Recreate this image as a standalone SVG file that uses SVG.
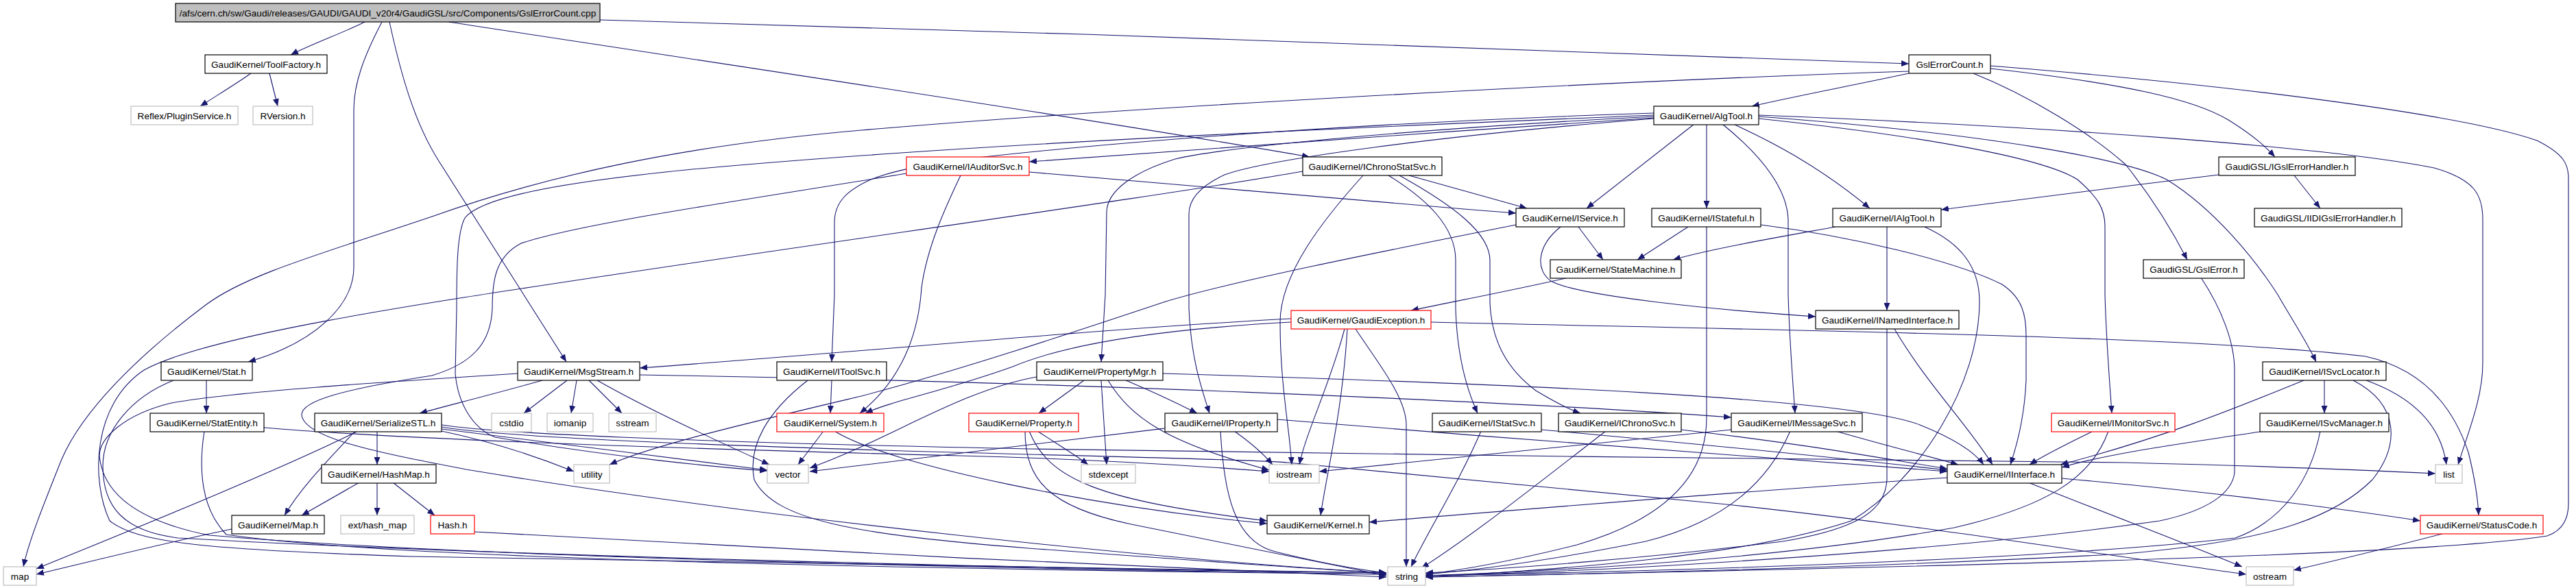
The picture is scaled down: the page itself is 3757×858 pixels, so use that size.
<svg xmlns="http://www.w3.org/2000/svg" width="3757" height="858" viewBox="0 0 3757 858">
<style>
.e{fill:none;stroke:#191970;stroke-width:1.1;marker-end:url(#ah)}
.n rect{fill:#fff;stroke:#000;stroke-width:1.2}
.n.g rect{stroke:#bfbfbf}
.n.r rect{stroke:#ff0000}
.n.root rect{fill:#bfbfbf}
text{font-family:"Liberation Sans",Arial,sans-serif;font-size:13.6px;text-anchor:middle;fill:#000}
</style>
<defs>
<marker id="ah" markerWidth="12" markerHeight="9" refX="11" refY="4.5" orient="auto" markerUnits="userSpaceOnUse"><path d="M0,0 L11,4.5 L0,9 z" fill="#191970"/></marker>
</defs>
<rect width="3757" height="858" fill="#fff"/>
<g id="connectors">
<path class="e" d="M532,32 C505,46 455,64 424,80"/>
<path class="e" d="M366,107 C345,122 315,140 292,155"/>
<path class="e" d="M393,107 L405,155"/>
<path class="e" d="M557,32 C532,80 516,120 516,160 L516,390 C516,445 460,500 362,528"/>
<path class="e" d="M568,32 C585,110 605,180 640,235 L826,528"/>
<path class="e" d="M654,32 C1100,100 1600,175 1910,229"/>
<path class="e" d="M875,29 C1500,45 2300,75 2784,93"/>
<path class="e" d="M2784,104 C2300,120 1600,160 1256,190 C1000,212 800,255 630,316 C470,370 360,400 300,445 C200,520 120,600 90,670 C62,740 42,790 34,827"/>
<path class="e" d="M2784,107 C2700,125 2620,140 2555,155"/>
<path class="e" d="M2903,100 C3100,122 3200,145 3250,175 C3290,200 3305,215 3318,229"/>
<path class="e" d="M2878,107 C2960,140 3050,195 3100,240 C3140,290 3170,340 3190,379"/>
<path class="e" d="M2903,96 C3300,128 3600,170 3700,205 C3740,225 3746,240 3746,260 L3746,735 C3746,760 3735,775 3715,782 C3600,800 3300,818 2079,842"/>
<path class="e" d="M2412,172 C2100,192 1700,222 1501,236"/>
<path class="e" d="M2471,181 L2314,304"/>
<path class="e" d="M2489,181 L2489,304"/>
<path class="e" d="M2528,181 C2580,205 2650,240 2727,304"/>
<path class="e" d="M2512,181 C2560,220 2606,270 2608,320 L2608,430 C2610,500 2615,560 2618,603"/>
<path class="e" d="M2565,173 C2800,198 2980,230 3030,262 C3060,288 3070,305 3070,330 L3070,430 C3072,500 3077,560 3080,603"/>
<path class="e" d="M2565,170 C2900,195 3100,232 3160,262 C3230,305 3290,380 3322,430 C3345,470 3365,500 3378,528"/>
<path class="e" d="M2565,168 C3000,185 3400,215 3550,245 C3610,262 3621,285 3621,320 L3621,530 C3621,580 3600,630 3585,678"/>
<path class="e" d="M2412,165 C2100,175 1700,198 1400,233 C1340,242 1300,250 1270,262 C1235,278 1217,295 1217,325 L1217,430 L1213,528"/>
<path class="e" d="M2412,168 C2000,185 1400,210 1000,248 C800,268 700,290 678,318 C666,340 666,400 666,450 L664,545 C668,590 690,625 722,638 C900,668 1050,682 1119,687"/>
<path class="e" d="M2412,170 C2100,186 1800,212 1714,232 C1650,252 1614,280 1614,310 L1612,430 L1606,528"/>
<path class="e" d="M2412,173 C2100,198 1850,232 1786,255 C1750,272 1734,292 1734,312 L1734,450 C1737,520 1750,560 1764,603"/>
<path class="e" d="M1501,251 C1800,275 2000,295 2211,311"/>
<path class="e" d="M1401,256 C1380,300 1352,360 1344,420 C1340,480 1320,550 1254,603"/>
<path class="e" d="M1322,253 C1100,290 850,325 760,355 C722,375 718,410 718,450 C716,500 690,530 630,548 C500,568 440,585 440,605 C442,640 560,662 680,685 C1100,755 1700,818 2022,836"/>
<path class="e" d="M2055,256 L2227,304"/>
<path class="e" d="M2025,256 C2080,290 2123,330 2123,380 L2123,450 C2125,520 2140,570 2155,603"/>
<path class="e" d="M2041,256 C2120,300 2173,340 2173,380 L2173,440 C2175,500 2200,540 2240,570 C2270,588 2290,598 2305,603"/>
<path class="e" d="M1988,256 C1930,320 1867,400 1867,470 C1867,560 1880,620 1884,678"/>
<path class="e" d="M1900,250 C1700,285 1300,340 900,400 C600,445 300,490 210,540 C135,590 132,700 160,760 C200,792 300,802 600,812 C1200,826 1700,832 2022,836"/>
<path class="e" d="M2302,331 L2338,379"/>
<path class="e" d="M2276,331 C2240,360 2240,395 2262,410 C2300,432 2500,452 2648,462"/>
<path class="e" d="M2211,328 C2000,370 1800,410 1700,440 C1550,490 1400,540 1256,578 C1100,615 950,650 889,678"/>
<path class="e" d="M2462,331 L2388,379"/>
<path class="e" d="M2568,328 C2700,345 2850,380 2920,415 C2950,435 2955,460 2955,490 L2955,555 C2953,600 2945,640 2932,678"/>
<path class="e" d="M2489,331 L2489,610 C2489,700 2420,760 2300,795 C2200,820 2130,832 2079,838"/>
<path class="e" d="M2752,331 L2752,453"/>
<path class="e" d="M2677,331 C2600,345 2500,362 2440,379"/>
<path class="e" d="M2807,331 C2860,355 2887,390 2887,440 C2887,560 2800,700 2700,760 C2550,810 2300,830 2079,842"/>
<path class="e" d="M3346,256 L3384,304"/>
<path class="e" d="M3236,255 C3100,272 2950,290 2831,306"/>
<path class="e" d="M2288,405 C2200,425 2120,440 2058,453"/>
<path class="e" d="M1883,465 C1600,480 1300,510 933,537"/>
<path class="e" d="M1883,470 C1700,480 1560,500 1477,535 C1380,570 1300,585 1262,603"/>
<path class="e" d="M1961,480 C1940,560 1905,630 1895,678"/>
<path class="e" d="M1965,480 C1958,600 1935,690 1926,752"/>
<path class="e" d="M1977,480 C2010,530 2051,580 2051,620 L2051,827"/>
<path class="e" d="M2087,470 C2600,482 3200,490 3450,520 C3540,540 3580,600 3600,660 C3610,700 3614,730 3615,752"/>
<path class="e" d="M2763,480 C2810,560 2870,620 2906,678"/>
<path class="e" d="M2752,480 L2752,700 C2750,740 2720,770 2600,790 C2400,815 2200,830 2079,836"/>
<path class="e" d="M301,555 L301,603"/>
<path class="e" d="M253,555 C190,580 150,630 150,680 C150,740 180,775 260,785 C700,810 1500,830 2022,836"/>
<path class="e" d="M298,629 C290,680 292,740 330,780 C600,820 1500,832 2022,838"/>
<path class="e" d="M385,624 C600,642 1000,655 1400,665 C1600,670 1750,680 1851,688"/>
<path class="e" d="M791,555 C720,575 660,590 612,603"/>
<path class="e" d="M827,555 L764,603"/>
<path class="e" d="M841,555 L833,603"/>
<path class="e" d="M859,555 L907,603"/>
<path class="e" d="M871,555 C950,600 1050,645 1122,678"/>
<path class="e" d="M933,547 C1500,556 2200,585 2525,609"/>
<path class="e" d="M755,545 C600,555 350,570 250,588 C180,605 145,640 145,665 C150,720 200,760 305,781 C700,815 1500,830 2022,838"/>
<path class="e" d="M1213,555 L1211,603"/>
<path class="e" d="M1178,555 C1120,600 1090,650 1100,700 C1130,760 1250,780 1500,800 C1750,818 1900,830 2022,836"/>
<path class="e" d="M1581,555 L1515,603"/>
<path class="e" d="M1606,555 L1614,678"/>
<path class="e" d="M1642,555 C1690,575 1720,590 1746,603"/>
<path class="e" d="M1616,555 C1650,610 1700,645 1851,686"/>
<path class="e" d="M1512,550 C1400,570 1300,640 1181,683"/>
<path class="e" d="M1696,545 C2200,560 2700,580 2800,620 C2850,640 2880,660 2893,678"/>
<path class="e" d="M1513,629 C1545,650 1570,665 1587,678"/>
<path class="e" d="M1495,629 C1495,700 1530,740 1650,765 C1800,795 1950,825 2022,840"/>
<path class="e" d="M1501,629 C1530,700 1600,730 1848,760"/>
<path class="e" d="M1201,629 L1164,678"/>
<path class="e" d="M1217,629 C1300,680 1600,740 1848,764"/>
<path class="e" d="M1800,629 C1830,650 1845,665 1856,678"/>
<path class="e" d="M1780,629 C1785,720 1800,790 1860,805 C1940,825 1990,832 2022,836"/>
<path class="e" d="M1863,612 C2200,640 2600,670 2840,688"/>
<path class="e" d="M1699,625 C1500,650 1300,675 1181,688"/>
<path class="e" d="M2160,629 C2130,700 2080,780 2058,827"/>
<path class="e" d="M2248,627 C2500,650 2700,670 2840,686"/>
<path class="e" d="M2342,629 C2250,700 2150,780 2073,829"/>
<path class="e" d="M2452,627 C2650,650 2750,670 2840,684"/>
<path class="e" d="M2677,629 C2750,650 2810,665 2856,678"/>
<path class="e" d="M2611,629 C2580,700 2520,760 2400,790 C2250,820 2150,832 2079,838"/>
<path class="e" d="M2525,627 C2300,650 2100,670 1924,688"/>
<path class="e" d="M3053,629 C3010,650 2980,665 2960,678"/>
<path class="e" d="M3075,629 C3050,700 2980,740 2850,770 C2600,815 2300,832 2079,840"/>
<path class="e" d="M3390,555 L3390,603"/>
<path class="e" d="M3360,555 C3250,600 3150,640 3005,678"/>
<path class="e" d="M3451,555 C3520,580 3560,620 3568,678"/>
<path class="e" d="M3432,555 C3500,590 3500,650 3460,700 C3400,760 3300,790 3100,808 C2700,830 2300,838 2079,842"/>
<path class="e" d="M3302,629 C3200,645 3080,660 3007,682"/>
<path class="e" d="M3384,629 C3370,700 3330,760 3260,785 C3000,815 2500,832 2079,840"/>
<path class="e" d="M2840,697 C2500,720 2200,745 1997,762"/>
<path class="e" d="M3007,698 C3200,715 3400,740 3530,760"/>
<path class="e" d="M2958,704 C3050,740 3180,790 3270,827"/>
<path class="e" d="M3562,779 C3500,795 3420,815 3345,832"/>
<path class="e" d="M550,629 L550,678"/>
<path class="e" d="M518,629 C480,670 440,710 415,752"/>
<path class="e" d="M522,629 C400,690 150,790 53,830"/>
<path class="e" d="M644,626 C720,636 1000,670 1119,686"/>
<path class="e" d="M644,629 C720,645 780,665 837,688"/>
<path class="e" d="M644,620 C720,632 1000,645 1500,655 C2000,663 2600,670 3100,675 C3300,680 3450,686 3552,691"/>
<path class="e" d="M644,623 C720,636 1000,650 1500,663 C1700,668 1850,672 1878,675 L2508,735 C2800,765 3100,815 3276,838"/>
<path class="e" d="M524,704 L440,752"/>
<path class="e" d="M550,704 L550,752"/>
<path class="e" d="M573,704 L634,752"/>
<path class="e" d="M338,772 C250,790 150,815 53,838"/>
<path class="e" d="M692,776 C1100,800 1600,825 2022,842"/>
<path class="e" d="M3210,405 C3240,450 3259,500 3259,540 L3259,690 C3255,720 3220,745 3150,760 C2800,810 2300,835 2079,840"/>
</g>
<g id="n-root" class="n root"><rect x="256" y="5" width="619" height="27"/><text x="565.5" y="23.5">/afs/cern.ch/sw/Gaudi/releases/GAUDI/GAUDI_v20r4/GaudiGSL/src/Components/GslErrorCount.cpp</text></g>
<g id="n-toolfactory" class="n"><rect x="299" y="80" width="178" height="27"/><text x="388" y="98.5">GaudiKernel/ToolFactory.h</text></g>
<g id="n-gslerrorcount" class="n"><rect x="2784" y="80" width="119" height="27"/><text x="2843.5" y="98.5">GslErrorCount.h</text></g>
<g id="n-pluginservice" class="n g"><rect x="191" y="155" width="156" height="27"/><text x="269" y="173.5">Reflex/PluginService.h</text></g>
<g id="n-rversion" class="n g"><rect x="369" y="155" width="87" height="27"/><text x="412.5" y="173.5">RVersion.h</text></g>
<g id="n-algtool" class="n"><rect x="2412" y="155" width="153" height="27"/><text x="2488.5" y="173.5">GaudiKernel/AlgTool.h</text></g>
<g id="n-iauditorsvc" class="n r"><rect x="1322" y="229" width="179" height="27"/><text x="1411.5" y="247.5">GaudiKernel/IAuditorSvc.h</text></g>
<g id="n-ichronostatsvc" class="n"><rect x="1900" y="229" width="203" height="27"/><text x="2001.5" y="247.5">GaudiKernel/IChronoStatSvc.h</text></g>
<g id="n-igslerrorhandler" class="n"><rect x="3236" y="229" width="199" height="27"/><text x="3335.5" y="247.5">GaudiGSL/IGslErrorHandler.h</text></g>
<g id="n-iservice" class="n"><rect x="2211" y="304" width="158" height="27"/><text x="2290" y="322.5">GaudiKernel/IService.h</text></g>
<g id="n-istateful" class="n"><rect x="2409" y="304" width="159" height="27"/><text x="2488.5" y="322.5">GaudiKernel/IStateful.h</text></g>
<g id="n-ialgtool" class="n"><rect x="2673" y="304" width="158" height="27"/><text x="2752" y="322.5">GaudiKernel/IAlgTool.h</text></g>
<g id="n-iidigslerrorhandler" class="n"><rect x="3288" y="304" width="215" height="27"/><text x="3395.5" y="322.5">GaudiGSL/IIDIGslErrorHandler.h</text></g>
<g id="n-statemachine" class="n"><rect x="2261" y="379" width="191" height="27"/><text x="2356.5" y="397.5">GaudiKernel/StateMachine.h</text></g>
<g id="n-gslerror" class="n"><rect x="3126" y="379" width="147" height="27"/><text x="3199.5" y="397.5">GaudiGSL/GslError.h</text></g>
<g id="n-gaudiexception" class="n r"><rect x="1883" y="453" width="204" height="27"/><text x="1985" y="471.5">GaudiKernel/GaudiException.h</text></g>
<g id="n-inamedinterface" class="n"><rect x="2648" y="453" width="209" height="27"/><text x="2752.5" y="471.5">GaudiKernel/INamedInterface.h</text></g>
<g id="n-stat" class="n"><rect x="235" y="528" width="133" height="27"/><text x="301.5" y="546.5">GaudiKernel/Stat.h</text></g>
<g id="n-msgstream" class="n"><rect x="755" y="528" width="178" height="27"/><text x="844" y="546.5">GaudiKernel/MsgStream.h</text></g>
<g id="n-itoolsvc" class="n"><rect x="1133" y="528" width="160" height="27"/><text x="1213" y="546.5">GaudiKernel/IToolSvc.h</text></g>
<g id="n-propertymgr" class="n"><rect x="1512" y="528" width="184" height="27"/><text x="1604" y="546.5">GaudiKernel/PropertyMgr.h</text></g>
<g id="n-isvclocator" class="n"><rect x="3300" y="528" width="180" height="27"/><text x="3390" y="546.5">GaudiKernel/ISvcLocator.h</text></g>
<g id="n-statentity" class="n"><rect x="219" y="603" width="166" height="27"/><text x="302" y="621.5">GaudiKernel/StatEntity.h</text></g>
<g id="n-serializestl" class="n"><rect x="459" y="603" width="185" height="27"/><text x="551.5" y="621.5">GaudiKernel/SerializeSTL.h</text></g>
<g id="n-cstdio" class="n g"><rect x="717" y="603" width="58" height="27"/><text x="746" y="621.5">cstdio</text></g>
<g id="n-iomanip" class="n g"><rect x="798" y="603" width="67" height="27"/><text x="831.5" y="621.5">iomanip</text></g>
<g id="n-sstream" class="n g"><rect x="888" y="603" width="69" height="27"/><text x="922.5" y="621.5">sstream</text></g>
<g id="n-system" class="n r"><rect x="1133" y="603" width="156" height="27"/><text x="1211" y="621.5">GaudiKernel/System.h</text></g>
<g id="n-property" class="n r"><rect x="1413" y="603" width="160" height="27"/><text x="1493" y="621.5">GaudiKernel/Property.h</text></g>
<g id="n-iproperty" class="n"><rect x="1699" y="603" width="164" height="27"/><text x="1781" y="621.5">GaudiKernel/IProperty.h</text></g>
<g id="n-istatsvc" class="n"><rect x="2089" y="603" width="159" height="27"/><text x="2168.5" y="621.5">GaudiKernel/IStatSvc.h</text></g>
<g id="n-ichronosvc" class="n"><rect x="2273" y="603" width="179" height="27"/><text x="2362.5" y="621.5">GaudiKernel/IChronoSvc.h</text></g>
<g id="n-imessagesvc" class="n"><rect x="2525" y="603" width="191" height="27"/><text x="2620.5" y="621.5">GaudiKernel/IMessageSvc.h</text></g>
<g id="n-imonitorsvc" class="n r"><rect x="2992" y="603" width="180" height="27"/><text x="3082" y="621.5">GaudiKernel/IMonitorSvc.h</text></g>
<g id="n-isvcmanager" class="n"><rect x="3296" y="603" width="188" height="27"/><text x="3390" y="621.5">GaudiKernel/ISvcManager.h</text></g>
<g id="n-hashmap" class="n"><rect x="469" y="678" width="167" height="27"/><text x="552.5" y="696.5">GaudiKernel/HashMap.h</text></g>
<g id="n-utility" class="n g"><rect x="837" y="678" width="52" height="27"/><text x="863" y="696.5">utility</text></g>
<g id="n-vector" class="n g"><rect x="1119" y="678" width="60" height="27"/><text x="1149" y="696.5">vector</text></g>
<g id="n-stdexcept" class="n g"><rect x="1577" y="678" width="79" height="27"/><text x="1616.5" y="696.5">stdexcept</text></g>
<g id="n-iostream" class="n g"><rect x="1851" y="678" width="73" height="27"/><text x="1887.5" y="696.5">iostream</text></g>
<g id="n-iinterface" class="n"><rect x="2840" y="678" width="167" height="27"/><text x="2923.5" y="696.5">GaudiKernel/IInterface.h</text></g>
<g id="n-list" class="n g"><rect x="3552" y="678" width="39" height="27"/><text x="3571.5" y="696.5">list</text></g>
<g id="n-map-h" class="n"><rect x="338" y="752" width="135" height="27"/><text x="405.5" y="770.5">GaudiKernel/Map.h</text></g>
<g id="n-ext-hash-map" class="n g"><rect x="497" y="752" width="107" height="27"/><text x="550.5" y="770.5">ext/hash_map</text></g>
<g id="n-hash" class="n r"><rect x="628" y="752" width="64" height="27"/><text x="660" y="770.5">Hash.h</text></g>
<g id="n-kernel" class="n"><rect x="1848" y="752" width="149" height="27"/><text x="1922.5" y="770.5">GaudiKernel/Kernel.h</text></g>
<g id="n-statuscode" class="n r"><rect x="3530" y="752" width="179" height="27"/><text x="3619.5" y="770.5">GaudiKernel/StatusCode.h</text></g>
<g id="n-map" class="n g"><rect x="5" y="827" width="48" height="27"/><text x="29" y="845.5">map</text></g>
<g id="n-string" class="n g"><rect x="2024" y="827" width="55" height="27"/><text x="2051.5" y="845.5">string</text></g>
<g id="n-ostream" class="n g"><rect x="3276" y="827" width="69" height="27"/><text x="3310.5" y="845.5">ostream</text></g>
</svg>
